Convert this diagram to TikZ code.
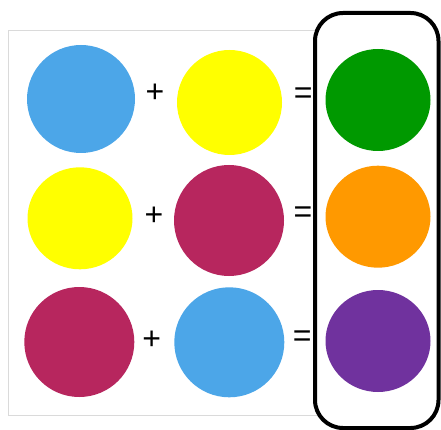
\documentclass[tikz,border=0pt]{standalone}
\usepackage{fontspec}
\setmainfont{Liberation Sans}
\usetikzlibrary{shapes.geometric}
\definecolor{cblue}{RGB}{76,166,232}
\definecolor{cyellow}{RGB}{255,255,0}
\definecolor{cgreen}{RGB}{0,153,0}
\definecolor{cmag}{RGB}{183,38,94}
\definecolor{corange}{RGB}{255,153,0}
\definecolor{cpurple}{RGB}{112,50,158}
\definecolor{frame}{RGB}{218,218,218}
\begin{document}
\begin{tikzpicture}[x=1pt,y=-1pt,
  disc/.style={ellipse,draw=none,inner sep=0pt},
  sym/.style={inner sep=0pt,font=\fontsize{32}{32}\selectfont}]
\useasboundingbox (0,0) rectangle (441,430);
\fill[white] (0,0) rectangle (441,430);
\draw[frame,line width=1pt] (8.5,30.5) rectangle (430,415);
\draw[black,fill=white,line width=4pt,rounded corners=28pt] (315,13) rectangle (438.5,428);
% row 1
\node[disc,fill=cblue,minimum width=108pt,minimum height=108pt] (b1) at (81,99) {};
\node[sym] (p1) at (155,93.5) {+};
\node[disc,fill=cyellow,minimum width=105pt,minimum height=105pt] (y1) at (229.5,102.5) {};
\node[sym] (e1) at (303.3,95.5) {=};
\node[disc,fill=cgreen,minimum width=105pt,minimum height=102pt] (g) at (378,100) {};
% row 2
\node[disc,fill=cyellow,minimum width=105pt,minimum height=102pt] (y2) at (80,218.3) {};
\node[sym] (p2) at (154,216.7) {+};
\node[disc,fill=cmag,minimum width=110pt,minimum height=111pt] (m2) at (229,220.5) {};
\node[sym] (e2) at (303,215) {=};
\node[disc,fill=corange,minimum width=105pt,minimum height=102pt] (o) at (378,216.7) {};
% row 3
\node[disc,fill=cmag,minimum width=110pt,minimum height=110pt] (m3) at (79.3,342) {};
\node[sym] (p3) at (151.7,340) {+};
\node[disc,fill=cblue,minimum width=110pt,minimum height=110pt] (b3) at (229.3,342.3) {};
\node[sym] (e3) at (302.3,338.3) {=};
\node[disc,fill=cpurple,minimum width=105pt,minimum height=102pt] (pu) at (378,341) {};
\end{tikzpicture}
\end{document}
